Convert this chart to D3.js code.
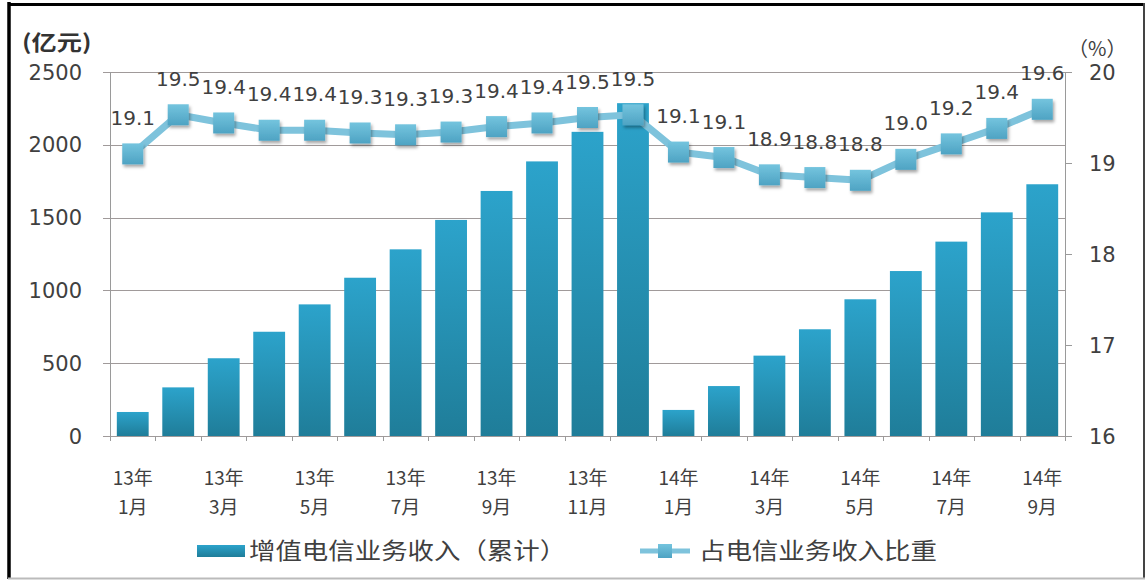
<!DOCTYPE html>
<html>
<head>
<meta charset="utf-8">
<script src="https://cdn.jsdelivr.net/npm/d3@7"></script>
<style>
  html, body { margin: 0; padding: 0; background: #fff; }
  svg { display: block; }
</style>
</head>
<body>
<svg id="chart" width="1148" height="580"></svg>
<script>
// ---- data ----
const categories = ["13年1月","13年2月","13年3月","13年4月","13年5月","13年6月","13年7月","13年8月","13年9月","13年10月","13年11月","13年12月",
                    "14年1月","14年2月","14年3月","14年4月","14年5月","14年6月","14年7月","14年8月","14年9月"];
const tickYears  = ["13年","13年","13年","13年","13年","13年","14年","14年","14年","14年","14年"];
const tickMonths = ["1月","3月","5月","7月","9月","11月","1月","3月","5月","7月","9月"];
const revenue = [165, 334, 534, 716, 904, 1087, 1282, 1484, 1683, 1886, 2089, 2286,
                 179, 343, 552, 733, 939, 1133, 1335, 1536, 1729];
const share = [19.10, 19.53, 19.44, 19.36, 19.36, 19.33, 19.31, 19.34, 19.40, 19.44, 19.50, 19.53,
               19.12, 19.06, 18.87, 18.84, 18.81, 19.04, 19.21, 19.38, 19.59];
const leftTicks = [0, 500, 1000, 1500, 2000, 2500];
const rightTicks = [16, 17, 18, 19, 20];
const barLegend = "增值电信业务收入（累计）";
const lineLegend = "占电信业务收入比重";
const leftUnit = "(亿元)";
const rightUnit = "（%）";

// ---- layout ----
const svg = d3.select("#chart");
const L = 110, R = 1065, T = 72, B = 436;
const textColor = "#404040";

const x = d3.scaleBand().domain(categories).range([L, R]).paddingInner(0.3).paddingOuter(0.15);
const xb = d3.scaleBand().domain(categories).range([L, R]);
const yL = d3.scaleLinear().domain([0, 2500]).range([B, T]);
const yR = d3.scaleLinear().domain([16, 20]).range([B, T]);

const defs = svg.append("defs");
const bg = defs.append("linearGradient").attr("id", "barGrad").attr("x1", 0).attr("y1", 0).attr("x2", 0).attr("y2", 1);
bg.append("stop").attr("offset", "0%").attr("stop-color", "#2ca3cb");
bg.append("stop").attr("offset", "100%").attr("stop-color", "#1f7d99");
const mg = defs.append("linearGradient").attr("id", "mkGrad").attr("x1", 0).attr("y1", 0).attr("x2", 0).attr("y2", 1);
mg.append("stop").attr("offset", "0%").attr("stop-color", "#74c4de");
mg.append("stop").attr("offset", "100%").attr("stop-color", "#4ea3c3");
const sh = defs.append("filter").attr("id", "shadow").attr("x", "-50%").attr("y", "-50%").attr("width", "200%").attr("height", "200%");
sh.append("feDropShadow").attr("dx", 1.5).attr("dy", 2.5).attr("stdDeviation", 1.8).attr("flood-color", "#000").attr("flood-opacity", 0.35);

// background
svg.append("rect").attr("x", 0).attr("y", 0).attr("width", 1148).attr("height", 580).attr("fill", "#fff");

// gridlines (left axis)
svg.append("g").selectAll("line").data(leftTicks).join("line")
  .attr("x1", L - 7).attr("x2", R)
  .attr("y1", d => Math.round(yL(d)) + 0.5).attr("y2", d => Math.round(yL(d)) + 0.5)
  .attr("stroke", "#a09a9a").attr("stroke-width", 1);

// left axis labels
svg.append("g").selectAll("text").data(leftTicks).join("text")
  .attr("x", 82).attr("y", d => yL(d)).attr("dy", "0.36em")
  .attr("text-anchor", "end")
  .attr("font-family", "DejaVu Sans").attr("font-size", 21).attr("fill", textColor)
  .text(d => d);

// axis lines
svg.append("line").attr("x1", L + 0.5).attr("x2", L + 0.5).attr("y1", T).attr("y2", B + 5)
  .attr("stroke", "#9a9a9a");
svg.append("line").attr("x1", R + 0.5).attr("x2", R + 0.5).attr("y1", T).attr("y2", B + 5)
  .attr("stroke", "#9a9a9a");

// right ticks + labels
svg.append("g").selectAll("line").data(rightTicks).join("line")
  .attr("x1", R).attr("x2", R + 7)
  .attr("y1", d => Math.round(yR(d)) + 0.5).attr("y2", d => Math.round(yR(d)) + 0.5)
  .attr("stroke", "#9a9a9a");
svg.append("g").selectAll("text").data(rightTicks).join("text")
  .attr("x", 1089).attr("y", d => yR(d)).attr("dy", "0.36em")
  .attr("font-family", "DejaVu Sans").attr("font-size", 21).attr("fill", textColor)
  .text(d => d);

// x ticks at category boundaries
svg.append("g").selectAll("line").data(categories).join("line")
  .attr("x1", d => Math.round(xb(d)) + 0.5).attr("x2", d => Math.round(xb(d)) + 0.5)
  .attr("y1", B).attr("y2", B + 5)
  .attr("stroke", "#9a9a9a");

// bars
svg.append("g").selectAll("rect").data(revenue).join("rect")
  .attr("x", (d, i) => x(categories[i]))
  .attr("width", x.bandwidth())
  .attr("y", d => yL(d))
  .attr("height", d => B - yL(d))
  .attr("fill", "url(#barGrad)");

// x labels (every other category)
const tickCats = categories.filter((c, i) => i % 2 === 0);
const xl = svg.append("g").selectAll("text").data(tickCats).join("text")
  .attr("text-anchor", "middle")
  .attr("font-family", "Noto Sans CJK SC").attr("font-size", 19).attr("fill", textColor);
xl.append("tspan").attr("x", d => xb(d) + xb.bandwidth() / 2).attr("y", 485).text((d, i) => tickYears[i]);
xl.append("tspan").attr("x", d => xb(d) + xb.bandwidth() / 2).attr("y", 514).text((d, i) => tickMonths[i]);

// line
const cx = i => xb(categories[i]) + xb.bandwidth() / 2;
const line = d3.line().x((d, i) => cx(i)).y(d => yR(d));
svg.append("path").datum(share).attr("d", line)
  .attr("fill", "none").attr("stroke", "#7ec3dc").attr("stroke-width", 7)
  .attr("stroke-linejoin", "round");
const ms = 21;
svg.append("g").selectAll("rect").data(share).join("rect")
  .attr("x", (d, i) => cx(i) - ms / 2).attr("y", d => yR(d) - ms / 2)
  .attr("width", ms).attr("height", ms)
  .attr("fill", "url(#mkGrad)").attr("filter", "url(#shadow)");

// data labels
const fmt = d3.format(".1f");
svg.append("g").selectAll("text").data(share).join("text")
  .attr("x", (d, i) => cx(i)).attr("y", d => yR(d) - 29)
  .attr("text-anchor", "middle")
  .attr("font-family", "DejaVu Sans").attr("font-size", 20).attr("fill", textColor)
  .text(d => fmt(d));

// units
svg.append("text").attr("transform", "translate(22,50) scale(1.2,1)")
  .attr("font-family", "Noto Sans CJK SC").attr("font-weight", "bold").attr("font-size", 21).attr("fill", "#333")
  .text(leftUnit);
svg.append("text").attr("transform", "translate(1068,56)")
  .attr("font-family", "Noto Sans CJK SC").attr("font-size", 20).attr("fill", textColor)
  .text(rightUnit);

// legend
const ly = 551;
svg.append("rect").attr("x", 197).attr("y", ly - 6).attr("width", 48).attr("height", 12).attr("fill", "url(#barGrad)");
svg.append("text").attr("transform", `translate(249,${ly + 8}) scale(1.15,1)`)
  .attr("font-family", "Noto Sans CJK SC").attr("font-size", 23).attr("fill", textColor)
  .text(barLegend);
svg.append("line").attr("x1", 640).attr("x2", 690).attr("y1", ly).attr("y2", ly)
  .attr("stroke", "#7ec3dc").attr("stroke-width", 5);
svg.append("rect").attr("x", 658).attr("y", ly - 7).attr("width", 14).attr("height", 14).attr("fill", "url(#mkGrad)");
svg.append("text").attr("transform", `translate(699,${ly + 8}) scale(1.15,1)`)
  .attr("font-family", "Noto Sans CJK SC").attr("font-size", 23).attr("fill", textColor)
  .text(lineLegend);

// border
svg.append("line").attr("x1", 9).attr("x2", 9).attr("y1", 2).attr("y2", 579).attr("stroke", "#000").attr("stroke-width", 3.5);
svg.append("line").attr("x1", 8).attr("x2", 1145).attr("y1", 4.5).attr("y2", 4.5).attr("stroke", "#000").attr("stroke-width", 3);
svg.append("line").attr("x1", 1144).attr("x2", 1144).attr("y1", 3).attr("y2", 579).attr("stroke", "#444").attr("stroke-width", 2);
svg.append("line").attr("x1", 8).attr("x2", 1145).attr("y1", 578.5).attr("y2", 578.5).attr("stroke", "#bbb").attr("stroke-width", 2);
</script>
</body>
</html>
